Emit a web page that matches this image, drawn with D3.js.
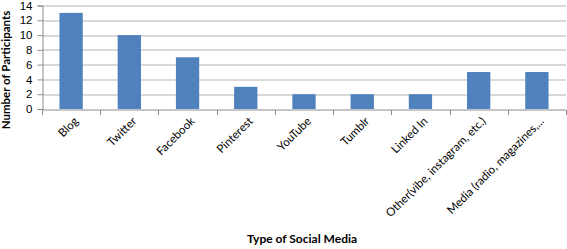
<!DOCTYPE html>
<html lang="en">
<head>
  <meta charset="UTF-8">
  <title>Type of Social Media</title>
  <style>
    body { margin: 0; background: #fff; }
    svg { display: block; font-family: Lato, "Open Sans", sans-serif; }
    .grid line { stroke: #b3b3b3; stroke-width: 1; }
    .axis path, .axis line { stroke: #8c8c8c; }
    .axis text { fill: #000; }
    .bar { fill: #4f81bd; }
    .title { font-weight: bold; font-size: 11.5px; }
  </style>
</head>
<body>
  <div class="layout"></div>
  <script src="https://d3js.org/d3.v7.min.js"></script>
  <script>
    // chart data
    const categories = ['Blog', 'Twitter', 'Facebook', 'Pinterest', 'YouTube', 'Tumblr', 'Linked In',
      'Other(vibe, instagram, etc.)', 'Media (radio, magazines,...'];
    const participants = [13, 10, 7, 3, 2, 2, 2, 5, 5];
    const yTicks = [0, 2, 4, 6, 8, 10, 12, 14];

    // chart properties
    const SVGWIDTH = 567;
    const SVGHEIGHT = 249;
    const margin = {top: 5.5, right: 1, left: 42};
    const chartInnerWidth = SVGWIDTH - (margin.left + margin.right);
    const chartInnerHeight = 103.5;

    const SVG = d3.select('.layout')
      .append('svg')
        .attr('width', SVGWIDTH)
        .attr('height', SVGHEIGHT);

    const chartArea = SVG.append('g')
      .attr('transform', `translate(${margin.left},${margin.top})`);

    // scales
    const scaleX = d3.scaleBand().domain(categories).range([0, chartInnerWidth]).paddingInner(0.6).paddingOuter(0.3);
    const scaleY = d3.scaleLinear().domain([0, 14]).range([chartInnerHeight, 0]);

    // gridlines
    chartArea.append('g')
      .attr('class', 'grid')
      .selectAll('line')
      .data(yTicks.filter(d => d > 0))
      .enter()
      .append('line')
        .attr('x1', 0)
        .attr('x2', chartInnerWidth)
        .attr('y1', d => Math.round(scaleY(d)) + 0.5)
        .attr('y2', d => Math.round(scaleY(d)) + 0.5);

    // bars
    chartArea.selectAll('.bar')
      .data(participants)
      .enter()
      .append('rect')
        .attr('class', 'bar')
        .attr('x', (d, i) => scaleX(categories[i]))
        .attr('width', scaleX.bandwidth())
        .attr('y', d => scaleY(d))
        .attr('height', d => chartInnerHeight - scaleY(d));

    // y axis
    const yAxis = d3.axisLeft(scaleY).tickValues(yTicks).tickSize(5).tickPadding(5);
    chartArea.append('g')
      .attr('class', 'y axis')
      .attr('transform', 'translate(0.5,0)')
      .call(yAxis)
      .call(g => g.selectAll('text').style('font-size', '11.5px'));

    // x axis: ticks on the category boundaries
    const step = scaleX.step();
    const boundaries = d3.range(categories.length + 1).map(i => i * step);
    const xAxisG = chartArea.append('g')
      .attr('class', 'x axis')
      .attr('transform', `translate(0,${Math.round(chartInnerHeight) + 0.5})`);
    xAxisG.append('line')
      .attr('x1', 0).attr('x2', chartInnerWidth)
      .attr('stroke', '#8c8c8c');
    xAxisG.selectAll('.bound')
      .data(boundaries)
      .enter()
      .append('line')
        .attr('x1', d => Math.round(d) + 0.5)
        .attr('x2', d => Math.round(d) + 0.5)
        .attr('y1', 0).attr('y2', 5)
        .attr('stroke', '#8c8c8c');
    xAxisG.selectAll('text')
      .data(categories)
      .enter()
      .append('text')
        .attr('text-anchor', 'end')
        .style('font-size', '11.5px')
        .attr('transform', d => `translate(${scaleX(d) + scaleX.bandwidth() / 2 + 5},${9}) rotate(-45)`)
        .attr('dy', '0.35em')
        .text(d => d);

    // axis titles
    SVG.append('text')
      .attr('class', 'title')
      .attr('text-anchor', 'middle')
      .attr('transform', 'translate(10,70) rotate(-90)')
      .text('Number of Participants');

    SVG.append('text')
      .attr('class', 'title')
      .attr('text-anchor', 'middle')
      .attr('x', 302)
      .attr('y', 243)
      .style('font-size', '12px')
      .text('Type of Social Media');
  </script>
</body>
</html>
